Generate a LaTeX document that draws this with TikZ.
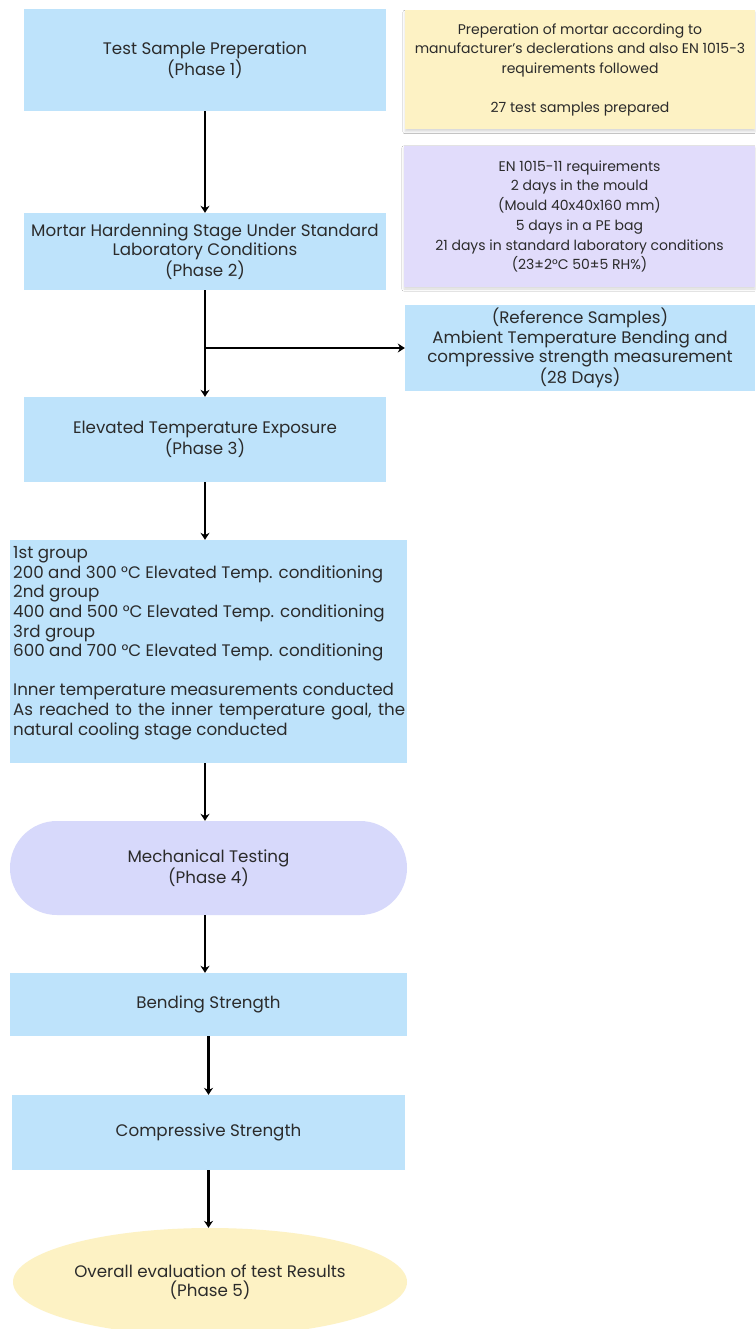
\documentclass[tikz,border=0pt]{standalone}
\usepackage{fontspec}
\setmainfont{Poppins}
\usetikzlibrary{arrows.meta,positioning,shapes.geometric,shadows.blur}
\definecolor{fcBlue}{HTML}{BEE3FB}
\definecolor{fcCream}{HTML}{FDF2C4}
\definecolor{fcLilac}{HTML}{E1DCFB}
\definecolor{fcPeri}{HTML}{D7D9FB}
\definecolor{fcInk}{HTML}{2B2B2B}
\tikzset{
  >={Stealth[length=7pt,width=9pt]},
  phase/.style={rectangle, fill=fcBlue, align=center, inner sep=0pt,
              text=fcInk, font=\fontsize{16.7}{19.5}\selectfont},
  note/.style={rectangle, align=center, inner sep=0pt, text=fcInk,
              font=\fontsize{14}{19.7}\selectfont,
              blur shadow={shadow xshift=0pt, shadow yshift=-2pt,
                           shadow opacity=15, shadow blur steps=3}},
  pill/.style={rectangle, rounded corners=47pt, fill=fcPeri, align=center,
              inner sep=0pt, text=fcInk, font=\fontsize{16.7}{19.5}\selectfont},
  goal/.style={ellipse, fill=fcCream, align=center, inner sep=0pt,
              text=fcInk, font=\fontsize{16.7}{19.5}\selectfont},
  flow/.style={->, draw=black, line width=2.3pt},
}
\begin{document}
\begin{tikzpicture}[x=1pt,y=-1pt]
  \useasboundingbox[fill=white] (0,0) rectangle (755,1329);
  % main column
  \node[phase, minimum width=362, minimum height=102] (p1) at (205,60)
    {Test Sample Preperation\\(Phase 1)};
  \node[phase, minimum width=362, minimum height=77] (p2) at (205,251.5)
    {Mortar Hardenning Stage Under Standard\\Laboratory Conditions\\(Phase 2)};
  \node[phase, minimum width=362, minimum height=85] (p3) at (205,439.5)
    {Elevated Temperature Exposure\\(Phase 3)};
  \node[phase, minimum width=397, minimum height=223] (heat) at (208.5,651.5) {};
  \node[anchor=north west, align=left, inner sep=0pt, text=fcInk,
        font=\fontsize{16.7}{19.6}\selectfont] (heattxt) at (13,546.5)
    {1st group\\200 and 300 °C Elevated Temp. conditioning\\2nd group\\
     400 and 500 °C Elevated Temp. conditioning\\3rd group\\
     600 and 700 °C Elevated Temp. conditioning\\[19.6pt]
     Inner temperature measurements conducted\\
     \makebox[392pt][s]{As reached to the inner temperature goal, the}\\
     natural cooling stage conducted};
  \node[pill, minimum width=397, minimum height=94] (p4) at (208.5,868)
    {Mechanical Testing\\(Phase 4)};
  \node[phase, minimum width=397, minimum height=63] (bend) at (208.5,1004.5)
    {Bending Strength};
  \node[phase, minimum width=393, minimum height=75] (comp) at (208.5,1132.5)
    {Compressive Strength};
  \node[goal, minimum width=394, minimum height=108] (p5) at (210,1282)
    {Overall evaluation of test Results\\(Phase 5)};
  % side notes
  \node[note, fill=fcCream, minimum width=350, minimum height=119] (mix) at (580,70)
    {Preperation of mortar according to\\manufacturer’s declerations and also EN 1015-3\\
     requirements followed\\[19.7pt]27 test samples prepared};
  \node[note, fill=fcLilac, minimum width=351, minimum height=141] (cure) at (579.5,216.5)
    {EN 1015-11 requirements\\2 days in the mould\\(Mould 40x40x160 mm)\\
     5 days in a PE bag\\21 days in standard laboratory conditions\\(23±2°C 50±5 RH\%)};
  \node[phase, minimum width=350, minimum height=86] (ref) at (580,348)
    {(Reference Samples)\\Ambient Temperature Bending and\\
     compressive strength measurement\\(28 Days)};
  % connectors
  \coordinate (split) at (205,348);
  \draw[flow] (p1) -- (p2);
  \draw[flow] (p2) -- (p3);
  \draw[flow] (split) -- (ref);
  \draw[flow] (p3.south) -- (p3.south |- heat.north);
  \draw[flow] (p3.south |- heat.south) -- (p3.south |- p4.north);
  \draw[flow] (p3.south |- p4.south) -- (p3.south |- bend.north);
  \draw[flow] (bend) -- (comp);
  \draw[flow] (comp) -- (comp.south |- p5.north);
\end{tikzpicture}
\end{document}
